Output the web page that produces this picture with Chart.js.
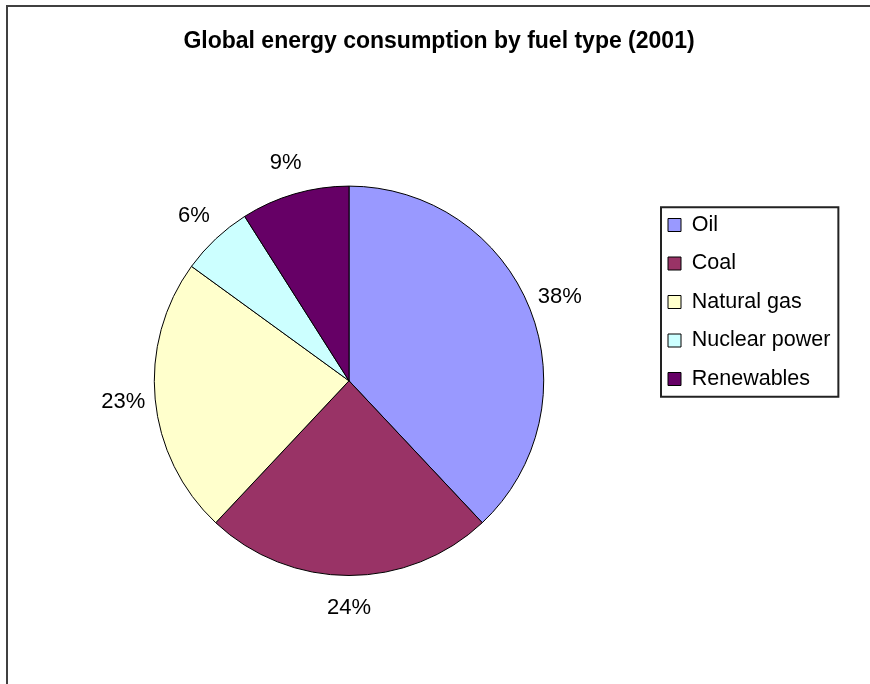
<!DOCTYPE html>
<html>
<head>
<meta charset="utf-8">
<script src="https://cdn.jsdelivr.net/npm/chart.js@4/dist/chart.umd.min.js"></script>
<style>
    html, body { margin: 0; padding: 0; background: #fff; overflow: hidden; }
    #frame { position: absolute; left: 6px; top: 5px; width: 900px; height: 800px;
             border-top: 2px solid #404040; border-left: 2px solid #404040; }
    #wrap { position: absolute; left: 0; top: 0; width: 870px; height: 684px; }
</style>
</head>
<body>
<div id="frame"></div>
<div id="wrap"><canvas id="myChart"></canvas></div>
<script>
let chartTitle = 'Global energy consumption by fuel type (2001)';
let fuelLabels = ['Oil', 'Coal', 'Natural gas', 'Nuclear power', 'Renewables'];
let fuelShares = [38, 24, 23, 6, 9];
let fuelColors = ['#9999FF', '#993366', '#FFFFCC', '#CCFFFF', '#660066'];

let fontFamily = '"Liberation Sans", Arial, sans-serif';

// percent labels just outside each slice
let sliceLabels = {
    id: 'sliceLabels',
    afterDatasetsDraw: (chart) => {
        let ctx = chart.ctx;
        let meta = chart.getDatasetMeta(0);
        ctx.save();
        ctx.font = '22px ' + fontFamily;
        ctx.fillStyle = '#000';
        ctx.textAlign = 'center';
        ctx.textBaseline = 'middle';
        meta.data.forEach((arc, i) => {
            let p = arc.getProps(['x', 'y', 'startAngle', 'endAngle', 'outerRadius'], true);
            let mid = (p.startAngle + p.endAngle) / 2;
            let r = p.outerRadius + 32;
            ctx.fillText(fuelShares[i] + '%', p.x + Math.cos(mid) * r, p.y + Math.sin(mid) * r);
        });
        ctx.restore();
    }
};

// box round the legend items
let legendFrame = {
    id: 'legendFrame',
    afterDraw: (chart) => {
        let boxes = chart.legend.legendHitBoxes;
        if (!boxes || !boxes.length) return;
        let first = boxes[0];
        let last = boxes[boxes.length - 1];
        let x0 = first.left - 7;
        let y0 = first.top - 7;
        let x1 = Math.max(...boxes.map(b => b.left + b.width)) + 8;
        let y1 = last.top + last.height + 7;
        let ctx = chart.ctx;
        ctx.save();
        ctx.strokeStyle = '#222';
        ctx.lineWidth = 2;
        ctx.strokeRect(x0, y0, x1 - x0, y1 - y0);
        ctx.restore();
    }
};

let ctx = document.getElementById('myChart').getContext('2d');
let myChart = new Chart(ctx, {
    type: 'pie',
    data: {
        labels: fuelLabels,
        datasets: [{
            data: fuelShares,
            backgroundColor: fuelColors,
            borderColor: '#000',
            borderWidth: 1
        }]
    },
    options: {
        responsive: true,
        maintainAspectRatio: false,
        animation: false,
        layout: {
            padding: { top: 28, bottom: 108, left: 47, right: 39 }
        },
        plugins: {
            title: {
                display: true,
                text: chartTitle,
                color: '#000',
                font: { family: fontFamily, size: 23, weight: 'bold' },
                padding: { top: 0, bottom: 130 }
            },
            legend: {
                display: true,
                position: 'right',
                align: 'center',
                maxWidth: 180,
                labels: {
                    color: '#000',
                    font: { family: fontFamily, size: 21.5 },
                    boxWidth: 13,
                    boxHeight: 13,
                    padding: 17
                }
            },
            tooltip: { enabled: false }
        }
    },
    plugins: [sliceLabels, legendFrame]
});
</script>
</body>
</html>
